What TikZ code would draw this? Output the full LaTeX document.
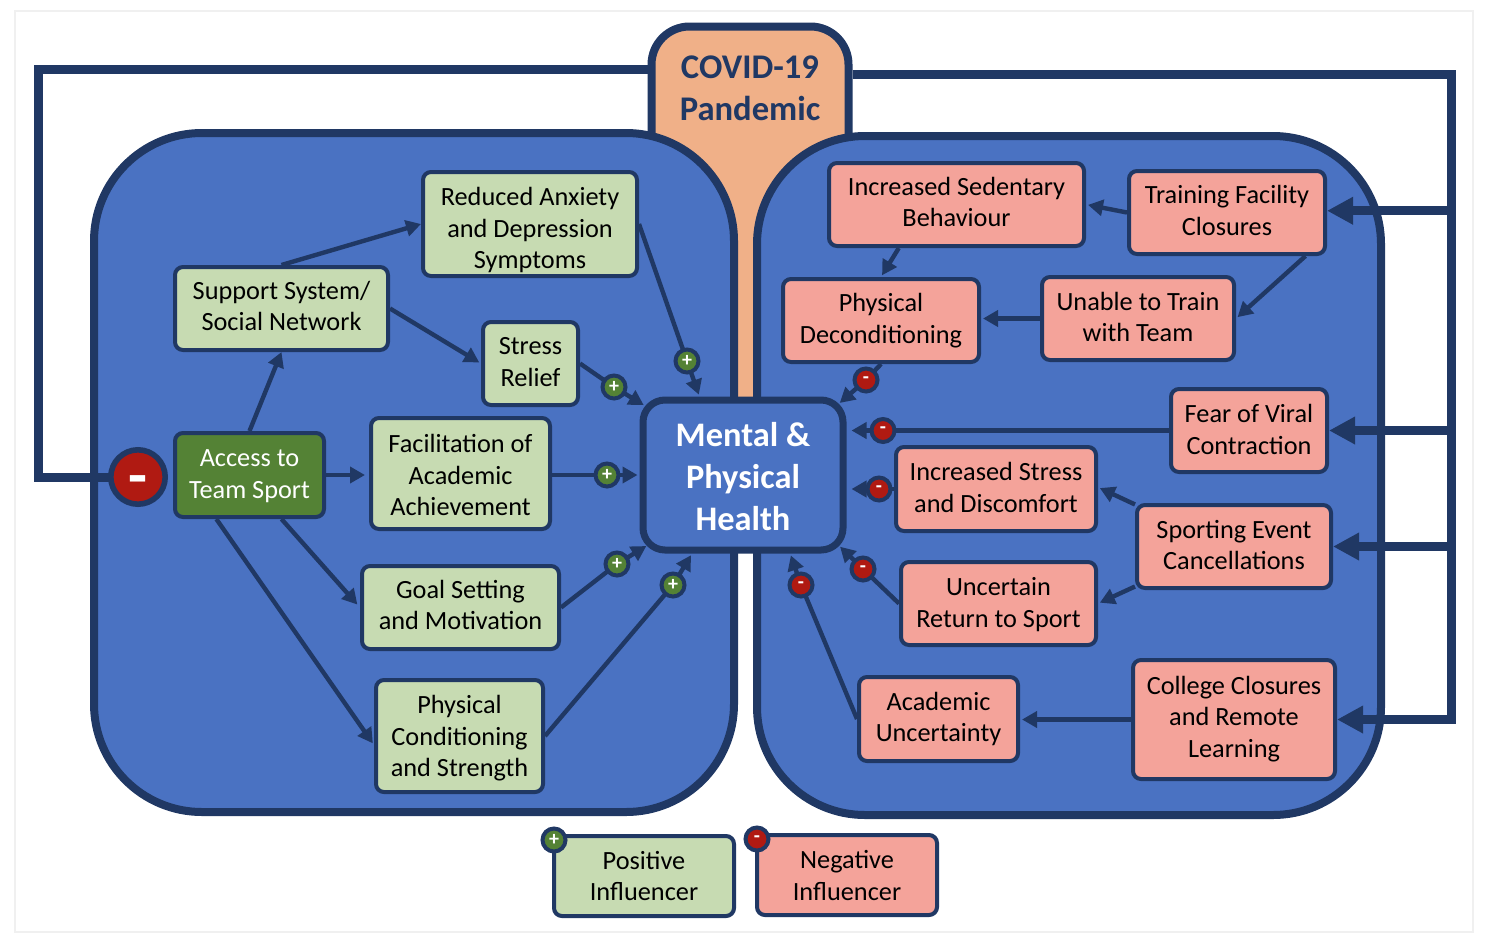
\documentclass[tikz,border=0pt]{standalone}
\usepackage{fontspec}
\setmainfont{Carlito}
\usetikzlibrary{arrows.meta}
\pgfdeclarelayer{panels}
\pgfdeclarelayer{links}
\pgfsetlayers{panels,links,main}
\definecolor{navy}{HTML}{203864}
\definecolor{panelblue}{HTML}{4A72C2}
\definecolor{palegreen}{HTML}{C7DBB2}
\definecolor{deepgreen}{HTML}{548235}
\definecolor{salmon}{HTML}{F4A39A}
\definecolor{peach}{HTML}{F0B088}
\definecolor{badred}{HTML}{B01A12}
\definecolor{framegray}{HTML}{F0F0F0}
% Stacked lines moved down by #1 units without changing the size of the box
\newcommand{\stacklines}[2]{\raisebox{\dimexpr -#1pt/2 - 1.5pt\relax}[\height][\depth]{\begin{tabular}{@{}c@{}}#2\end{tabular}}}
\tikzset{
  sized/.style 2 args={minimum width={(#1-4)*0.5pt},minimum height={(#2-4)*0.5pt}},
  card/.style={draw=navy,line width=2pt,rounded corners=4pt,inner sep=0pt,align=center,
    text=black,font=\fontsize{13.15}{15.75}\selectfont},
  goodcard/.style 2 args={card,fill=palegreen,sized={#1}{#2}},
  badcard/.style 2 args={card,fill=salmon,sized={#1}{#2}},
  rootcard/.style 2 args={card,fill=deepgreen,text=white,sized={#1}{#2}},
  hub/.style={draw=navy,fill=panelblue,line width=3.5pt,rounded corners=11pt,inner sep=0pt,
    align=center,text=white,minimum width=100pt,minimum height=75pt,
    font=\bfseries\fontsize{17.2}{21}\selectfont},
  panel/.style={draw=navy,fill=panelblue,line width=4pt,rounded corners=54pt,inner sep=0pt},
  badge/.style={circle,draw=navy,line width=2pt,inner sep=0pt,minimum size=11.5pt,text=white,
    font=\bfseries\fontsize{10}{10}\selectfont},
  plusbadge/.style={badge,fill=deepgreen},
  minusbadge/.style={badge,fill=badred},
  arrowlink/.style={navy,line width=2.2pt,-{Triangle[length=7.5pt,width=8pt]},shorten >=1pt},
  plainlink/.style={navy,line width=2.2pt},
  mainline/.style={navy,line width=4.5pt},
  mainarrow/.style={navy,line width=4.5pt,-{Triangle[length=13pt,width=13pt]},shorten >=0pt},
}
\begin{document}
\begin{tikzpicture}[x=0.5pt,y=-0.5pt]
\useasboundingbox (0,0) rectangle (1492,938);

% Boxes of the left group
\node[goodcard={218}{108}] (reduced) at (530,224) {\stacklines{4}{Reduced Anxiety\\and Depression\\Symptoms}};
\node[goodcard={217}{87}] (support) at (281.5,308.5) {\stacklines{-3}{Support System/\\Social Network}};
\node[goodcard={99}{87}] (stress) at (530.5,363.5) {\stacklines{-2.5}{Stress\\Relief}};
\node[rootcard={153}{88}] (access) at (249.5,475) {\stacklines{-2}{Access to\\Team Sport}};
\node[goodcard={183}{115}] (facil) at (460.5,473.5) {\stacklines{1.5}{Facilitation of\\Academic\\Achievement}};
\node[goodcard={201}{87}] (goal) at (460.5,607.5) {\stacklines{-3}{Goal Setting\\and Motivation}};
\node[goodcard={171}{116}] (condition) at (459.5,736) {\stacklines{0}{Physical\\Conditioning\\and Strength}};

% Central box
\node[hub] (health) at (743,475) {\stacklines{2}{Mental \&\\Physical\\Health}};

% Boxes of the right group
\node[badcard={259}{87}] (sedentary) at (956.5,204.5) {\stacklines{-3}{Increased Sedentary\\Behaviour}};
\node[badcard={200}{87}] (training) at (1227,212.5) {\stacklines{-2.5}{Training Facility\\Closures}};
\node[badcard={200}{87}] (decond) at (881,320.5) {\stacklines{-2.5}{Physical\\Deconditioning}};
\node[badcard={196}{87}] (unable) at (1138,318.5) {\stacklines{-2}{Unable to Train\\with Team}};
\node[badcard={160}{87}] (fear) at (1249,430.5) {\stacklines{-1.5}{Fear of Viral\\Contraction}};
\node[badcard={204}{88}] (incstress) at (996,489) {\stacklines{-2}{Increased Stress\\and Discomfort}};
\node[badcard={198}{87}] (sporting) at (1234,546.5) {\stacklines{-2}{Sporting Event\\Cancellations}};
\node[badcard={199}{87}] (uncertain) at (998.5,603.5) {\stacklines{-1.5}{Uncertain\\Return to Sport}};
\node[badcard={163}{88}] (academic) at (938.5,719) {\stacklines{-2.5}{Academic\\Uncertainty}};
\node[badcard={206}{123}] (college) at (1234,719.5) {\stacklines{-3}{College Closures\\and Remote\\Learning}};

% Legend
\node[goodcard={184}{84}] (legendplus) at (644,876) {\stacklines{-0.5}{Positive\\Influencer}};
\node[badcard={184}{84}] (legendminus) at (847,875) {\stacklines{0}{Negative\\Influencer}};

% Influence markers
\node[plusbadge] (p1) at (687,361) {+};
\node[plusbadge] (p2) at (614,387) {+};
\node[plusbadge] (p3) at (607,475) {+};
\node[plusbadge] (p4) at (617,564) {+};
\node[plusbadge] (p5) at (673,585) {+};
\node[plusbadge] (p6) at (554,840) {+};
\node[minusbadge] (m1) at (866,380) {-};
\node[minusbadge] (m2) at (883,430.5) {-};
\node[minusbadge] (m3) at (879,489) {-};
\node[minusbadge] (m4) at (863,569) {-};
\node[minusbadge] (m5) at (801,585) {-};
\node[minusbadge] (m6) at (757,839) {-};
\node[circle,draw=navy,fill=badred,line width=2.8pt,minimum size=27.2pt,inner sep=0pt,text=white,
  font=\bfseries\fontsize{31}{31}\selectfont] (bigminus) at (138,477) {\raisebox{-4.5pt}[\height][\depth]{-}};

% Pandemic label sits on the tall rounded shape behind the panels
\node[align=center,text=navy,font=\bfseries\fontsize{17.3}{21}\selectfont] (covidtext) at (750,88.5) {\stacklines{0}{COVID-19\\Pandemic}};

\begin{pgfonlayer}{panels}
  \fill[white] (0,0) rectangle (1492,938);
  \node[draw=framegray,line width=1pt,inner sep=0pt,minimum width=729pt,minimum height=460.5pt] (frame) at (744,471.5) {};
  \node[draw=navy,fill=peach,line width=4pt,rounded corners=19pt,inner sep=0pt,
    minimum width=98.5pt,minimum height=205pt] (covid) at (750,231.5) {};
  \node[panel,minimum width=320pt,minimum height=339.5pt] (leftpanel) at (414,472.5) {};
  \node[panel,minimum width=312pt,minimum height=339.5pt] (rightpanel) at (1069,475.5) {};
\end{pgfonlayer}

\coordinate (leftcorner) at (38,69);
\coordinate (rightcorner) at (1451,74);

\begin{pgfonlayer}{links}
  % Pandemic pathways
  \draw[mainline,line join=miter] (bigminus.center) -| (leftcorner) -- (leftcorner -| covid.west);
  \draw[mainarrow,line join=miter] (rightcorner -| covid.east) -- (rightcorner) -- (rightcorner |- college.east) -- (college.east);
  \draw[mainarrow] (rightcorner |- training.1.5) -- (training.1.5);
  \draw[mainarrow] (rightcorner |- fear.east) -- (fear.east);
  \draw[mainarrow] (rightcorner |- sporting.east) -- (sporting.east);

  % Left group
  \draw[arrowlink,shorten >=0pt] (access.north) -- (support.south);
  \draw[arrowlink,shorten >=0pt] (support.north) -- (reduced.west);
  \draw[arrowlink] (support.east) -- (stress.west);
  \draw[arrowlink,shorten >=2pt] (access.east) -- (facil.west |- access.east);
  \draw[arrowlink,shorten >=2pt] (access.-54) -- (goal.west);
  \draw[arrowlink] (access.-127) -- (condition.186);
  \draw[plainlink] (reduced.east) -- (p1.center);
  \draw[arrowlink] (p1.center) -- (health.119);
  \draw[plainlink] (stress.east) -- (p2.center);
  \draw[arrowlink,shorten >=-2.5pt] (p2.center) -- (health.145);
  \draw[plainlink] (facil.east |- p3.center) -- (p3.center);
  \draw[arrowlink] (p3.center) -- (health.west);
  \draw[plainlink] (goal.east) -- (p4.center);
  \draw[arrowlink,shorten >=-4pt] (p4.center) -- (health.216);
  \draw[plainlink] (condition.east) -- (p5.center);
  \draw[arrowlink] (p5.center) -- (health.237);

  % Right group
  \draw[arrowlink] (training.west) -- (sedentary.east);
  \draw[arrowlink] (training.-29) -- (unable.east);
  \draw[arrowlink] (sedentary.217.6) -- (decond.north);
  \draw[arrowlink] (unable.west) -- (decond.east |- unable.west);
  \draw[arrowlink] (sporting.157.5) -- (incstress.1);
  \draw[arrowlink] (sporting.-158.7) -- (uncertain.east);
  \draw[arrowlink] (college.west) -- (academic.east |- college.west);
  \draw[plainlink] (decond.south) -- (m1.center);
  \draw[arrowlink,shorten >=-4.5pt] (m1.center) -- (health.37);
  \draw[plainlink] (fear.west) -- (m2.center);
  \draw[arrowlink,shorten >=2.5pt] (m2.center) -- (health.east |- m2.center);
  \draw[plainlink] (incstress.west) -- (m3.center);
  \draw[arrowlink,shorten >=2.5pt] (m3.center) -- (health.east |- m3.center);
  \draw[plainlink] (uncertain.west) -- (m4.center);
  \draw[arrowlink,shorten >=-4.5pt] (m4.center) -- (health.-37);
  \draw[plainlink] (academic.west) -- (m5.center);
  \draw[arrowlink] (m5.center) -- (health.-59);
\end{pgfonlayer}
\end{tikzpicture}
\end{document}
